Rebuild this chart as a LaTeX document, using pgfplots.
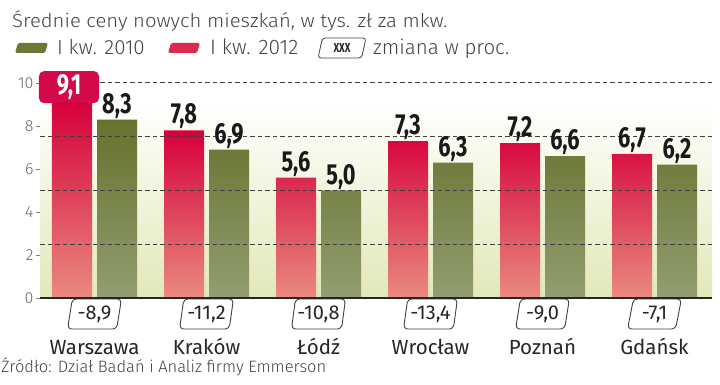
\documentclass[border=0pt]{standalone}
\usepackage{fontspec}
\usepackage{pgfplots}
\pgfplotsset{compat=1.18}
\usetikzlibrary{shapes.geometric}
\setmainfont{Fira Sans}
\newfontfamily\lightf{Fira Sans Light}[FakeStretch=1.065]
\newfontfamily\lightg{Fira Sans Light}[FakeStretch=1.0]
\newfontfamily\regf{Fira Sans}[FakeStretch=1.0]
\newfontfamily\boldf{Fira Sans Bold}[FakeStretch=0.75]
\definecolor{redtop}{HTML}{D6003C}
\definecolor{redbot}{HTML}{E98A7E}
\definecolor{grntop}{HTML}{66722C}
\definecolor{grnbot}{HTML}{929D72}
\definecolor{bgbot}{HTML}{E2E8B8}
\definecolor{boxred}{HTML}{D4094A}
\definecolor{txtgray}{HTML}{444444}
\tikzset{chg/.style={trapezium, trapezium left angle=78, trapezium right angle=102, trapezium stretches=true, minimum width=54pt, minimum height=30pt, draw=black!75, line width=0.9pt, fill=white, rounded corners=4pt, inner sep=0pt, yshift=-16pt, font=\regf\fontsize{20}{20}\selectfont, text=black!85}}
\begin{document}
\begin{tikzpicture}
\fill[top color=white, bottom color=bgbot] (40pt,87pt) rectangle (712pt,282pt);
% title
\node[anchor=base west, inner sep=0, text=txtgray, font=\lightf\fontsize{19}{19}\selectfont] at (12pt,357pt) {Średnie ceny nowych mieszkań, w tys. zł za mkw.};
% legend
\fill[grntop!85!grnbot, rounded corners=1.5pt] (15pt,332pt) -- (45pt,332pt) -- (48pt,342pt) -- (18pt,342pt) -- cycle;
\node[anchor=base west, inner sep=0, text=txtgray, font=\lightg\fontsize{20.5}{20.5}\selectfont] at (57pt,330pt) {I kw. 2010};
\fill[redtop!70!redbot, rounded corners=1.5pt] (168pt,332pt) -- (197pt,332pt) -- (200pt,342pt) -- (171pt,342pt) -- cycle;
\node[anchor=base west, inner sep=0, text=txtgray, font=\lightg\fontsize{21}{21}\selectfont] at (210pt,330pt) {I kw. 2012};
\node[trapezium, trapezium left angle=78, trapezium right angle=102, trapezium stretches=true, minimum width=48pt, minimum height=20pt, draw=black!75, line width=0.8pt, rounded corners=3pt, inner sep=0pt, font=\boldf\fontsize{13}{13}\selectfont, text=black!85] at (342pt,337pt) {XXX};
\node[anchor=base west, inner sep=0, text=txtgray, font=\lightg\fontsize{20.5}{20.5}\selectfont] at (373pt,330pt) {zmiana w proc.};
% source
\node[anchor=base west, inner sep=0, text=txtgray, font=\lightg\fontsize{16.5}{16.5}\selectfont] at (1pt,12pt) {Źródło: Dział Badań i Analiz firmy Emmerson};
\begin{axis}[
  at={(40pt,87pt)}, anchor=south west, scale only axis,
  width=672pt, height=223.6pt,
  xmin=-0.4866, xmax=5.5134, ymin=0, ymax=10.4,
  axis lines*=left,
  x axis line style={line width=2.5pt, black!85},
  y axis line style={draw=none},
  ytick={0,2,4,6,8,10}, yticklabels={0,2,4,6,8,10},
  tick align=outside, major tick length=4pt,
  ytick style={black!50, line width=0.8pt},
  yticklabel style={font=\lightg\fontsize{16}{16}\selectfont, text=black!60, xshift=1pt},
  xtick={0,1,2,3,4,5}, xtick style={draw=none},
  xticklabels={Warszawa,Kraków,Łódź,Wrocław,Poznań,Gdańsk},
  xticklabel style={anchor=base, yshift=-53pt, font=\regf\fontsize{20.5}{20.5}\selectfont, text=black!85},
  extra y ticks={2.5,5,7.5,10}, extra y tick labels={},
  extra y tick style={grid=major, major tick length=0pt},
  major grid style={dash pattern=on 4.5pt off 3pt, black!75, line width=1pt},
  axis on top, clip=false,
  nodes near coords={\pgfmathprintnumber[use comma, fixed, fixed zerofill, precision=1, assume math mode=true]{\pgfplotspointmeta}},
]
\addplot[ybar, bar width=40pt, bar shift=-22.5pt, draw=none, top color=redtop, bottom color=redbot,
  every node near coord/.style={font=\boldf\fontsize{29}{29}\selectfont, text=black!90, anchor=south, inner sep=1pt, xshift=-22.5pt}]
  coordinates {(1,7.8) (2,5.6) (3,7.3) (4,7.2) (5,6.7)};
\addplot[ybar, bar width=40pt, bar shift=-22.5pt, draw=none, top color=redtop, bottom color=redbot,
  every node near coord/.style={font=\boldf\fontsize{29}{29}\selectfont, text=white, fill=boxred, rounded corners=5pt, minimum width=60pt, minimum height=32pt, anchor=south, inner sep=0pt, xshift=-25.5pt, yshift=-1pt}]
  coordinates {(0,9.1)};
\addplot[ybar, bar width=40pt, bar shift=22.5pt, draw=none, top color=grntop, bottom color=grnbot,
  every node near coord/.style={font=\boldf\fontsize{29}{29}\selectfont, text=black!90, anchor=south, inner sep=1pt, xshift=22.5pt}]
  coordinates {(0,8.3) (1,6.9) (2,5.0) (3,6.3) (4,6.6) (5,6.2)};
\node[chg] at (axis cs:0,0) {-8,9};
\node[chg] at (axis cs:1,0) {-11,2};
\node[chg] at (axis cs:2,0) {-10,8};
\node[chg] at (axis cs:3,0) {-13,4};
\node[chg] at (axis cs:4,0) {-9,0};
\node[chg] at (axis cs:5,0) {-7,1};
\end{axis}
\pgfresetboundingbox
\path[use as bounding box] (0pt,0pt) rectangle (720pt,385pt);
\end{tikzpicture}
\end{document}
